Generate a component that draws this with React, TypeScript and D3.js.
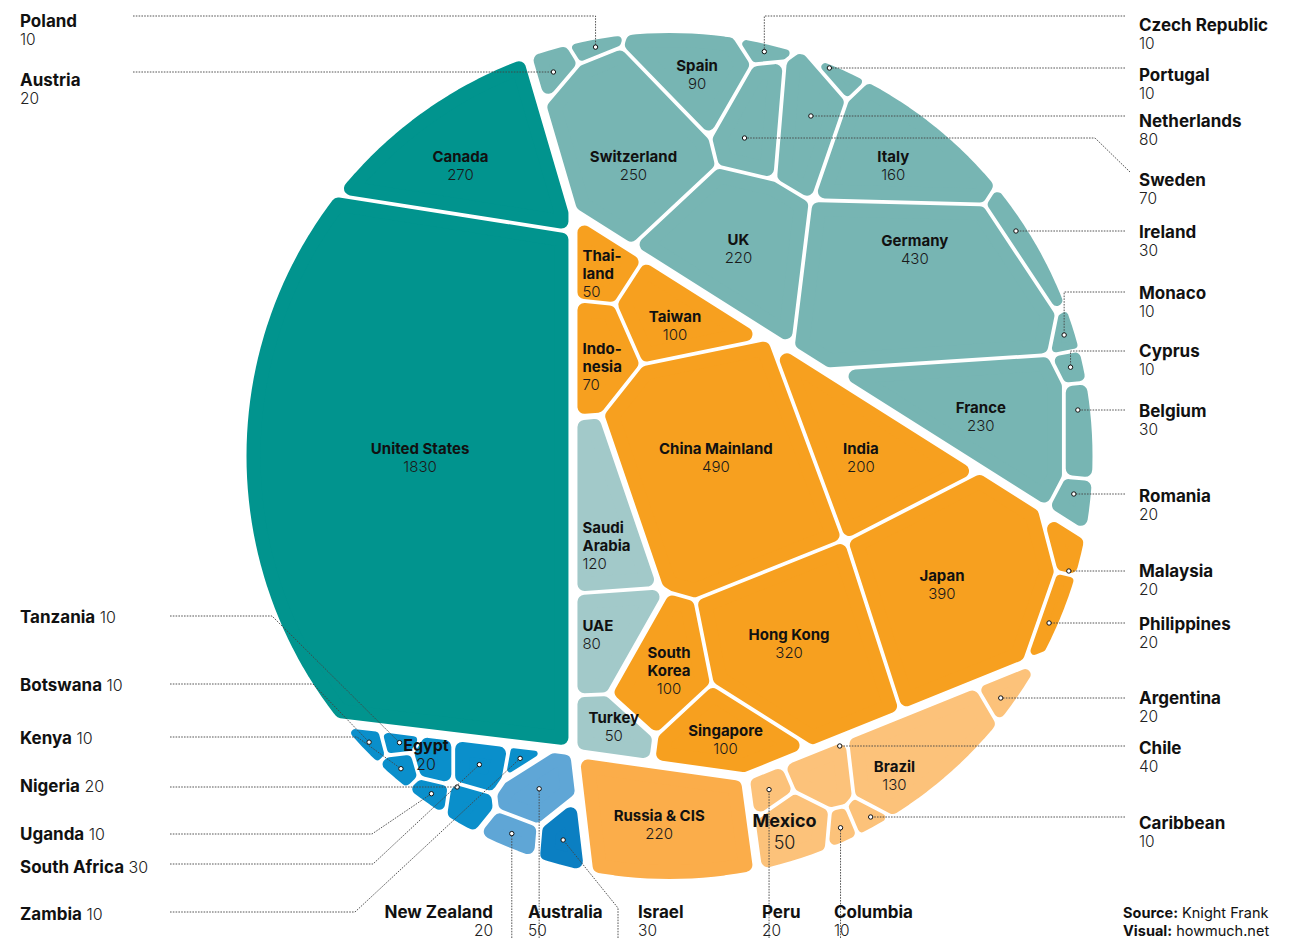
import React, { useMemo } from "react";
import * as d3 from "d3";

// ---------------- data ----------------
const regionNames = ["North America", "Europe", "Middle East", "Asia", "Latin America", "Russia & CIS", "Africa", "Oceania", "Israel"];

const countryNames = [
  "United States", "Canada",
  "Poland", "Austria", "Czech Republic", "Portugal", "Netherlands", "Sweden", "Spain", "Switzerland", "Italy", "UK", "Germany", "Ireland", "Monaco", "Cyprus", "France", "Belgium", "Romania",
  "Saudi Arabia", "UAE", "Turkey",
  "Thailand", "Indonesia", "Taiwan", "China Mainland", "India", "Japan", "Hong Kong", "South Korea", "Singapore", "Malaysia", "Philippines",
  "Argentina", "Chile", "Brazil", "Caribbean", "Mexico", "Columbia", "Peru",
  "Russia & CIS",
  "Tanzania", "Botswana", "Kenya", "Nigeria", "Uganda", "South Africa", "Zambia", "Egypt",
  "New Zealand", "Australia",
  "Israel",
];

const countryValues = [
  1830, 270,
  10, 20, 10, 10, 80, 70, 90, 250, 160, 220, 430, 30, 10, 10, 230, 30, 20,
  120, 80, 50,
  50, 70, 100, 490, 200, 390, 320, 100, 100, 20, 20,
  20, 40, 130, 10, 50, 10, 20,
  220,
  10, 10, 10, 20, 10, 30, 10, 20,
  20, 50,
  30,
];

const countryRegion = [
  0, 0,
  1, 1, 1, 1, 1, 1, 1, 1, 1, 1, 1, 1, 1, 1, 1, 1, 1,
  2, 2, 2,
  3, 3, 3, 3, 3, 3, 3, 3, 3, 3, 3,
  4, 4, 4, 4, 4, 4, 4,
  5,
  6, 6, 6, 6, 6, 6, 6, 6,
  7, 7,
  8,
];

// layout groups of the treemap's top level (regions -> group)
const regionGroup = [0, 1, 2, 2, 3, 4, 5, 5, 5];

// ---------------- layout & style ----------------
const W = 1314, H = 941;
const CX = 669.5, CY = 456, RADIUS = 423;
const GROUP_GAP = 4.5, REGION_GAP = 3, COUNTRY_GAP = 1.9;

const regionColors = ["#01948e", "#77b5b3", "#a2c9c9", "#f7a01f", "#fcc27a", "#fbad4a", "#0a8fcb", "#5fa6d6", "#0b7fc2"];

// top-level power-diagram sites (chosen so group borders follow the reference)
const groupSeeds: [number, number][] = [
  [420, 450], [911, 306], [820, 450], [933, 730], [778, 751], [378, 798],
];

// initial site estimates for the country level
const seedPos: Record<string, [number, number]> = {
  "United States": [430, 465], "Canada": [478, 160],
  "Poland": [590, 50], "Austria": [545, 78], "Czech Republic": [753, 48], "Portugal": [848, 87],
  "Netherlands": [808, 122], "Sweden": [760, 118], "Spain": [699, 83], "Switzerland": [630, 150],
  "Italy": [918, 160], "UK": [728, 255], "Germany": [915, 278], "Ireland": [1007, 217],
  "Monaco": [1058, 307], "Cyprus": [1068, 358], "France": [925, 430], "Belgium": [1075, 430], "Romania": [1068, 505],
  "Saudi Arabia": [603, 505], "UAE": [612, 635], "Turkey": [615, 720],
  "Thailand": [600, 260], "Indonesia": [590, 362], "Taiwan": [690, 318], "China Mainland": [720, 465],
  "India": [855, 415], "Japan": [945, 590], "Hong Kong": [790, 640], "South Korea": [665, 665],
  "Singapore": [730, 735], "Malaysia": [1060, 560], "Philippines": [1045, 625],
  "Argentina": [995, 702], "Chile": [815, 768], "Brazil": [900, 758], "Caribbean": [870, 815],
  "Mexico": [785, 828], "Columbia": [830, 832], "Peru": [760, 792],
  "Russia & CIS": [665, 812],
  "Tanzania": [388, 727], "Botswana": [365, 733], "Kenya": [392, 762], "Nigeria": [458, 795],
  "Uganda": [418, 789], "South Africa": [470, 752], "Zambia": [503, 758], "Egypt": [427, 752],
  "New Zealand": [505, 833], "Australia": [522, 788],
  "Israel": [562, 838],
};

type Inner = { name: string; lines: string[]; size?: number; align?: "left"; dx?: number; dy?: number };
const innerLabels: Inner[] = [
  { name: "United States", lines: ["United States"], dy: -12 },
  { name: "Canada", lines: ["Canada"], dx: -12, dy: 9 },
  { name: "Spain", lines: ["Spain"], dx: 4, dy: 5 },
  { name: "Switzerland", lines: ["Switzerland"], dx: 8, dy: 20 },
  { name: "Italy", lines: ["Italy"], dx: -4, dy: 9 },
  { name: "UK", lines: ["UK"], dy: 3 },
  { name: "Germany", lines: ["Germany"], dy: -38 },
  { name: "France", lines: ["France"], dx: -3, dy: 4 },
  { name: "Thailand", lines: ["Thai-", "land"], align: "left", dy: 8 },
  { name: "Indonesia", lines: ["Indo-", "nesia"], align: "left", dy: 10 },
  { name: "Taiwan", lines: ["Taiwan"], dy: 7 },
  { name: "China Mainland", lines: ["China Mainland"], dx: -3, dy: -11 },
  { name: "India", lines: ["India"], dx: -4, dy: 7 },
  { name: "Japan", lines: ["Japan"], dx: -13, dy: -2 },
  { name: "Hong Kong", lines: ["Hong Kong"], dx: -11, dy: -3 },
  { name: "South Korea", lines: ["South", "Korea"], dx: 3, dy: 5 },
  { name: "Singapore", lines: ["Singapore"], dx: 2, dy: 3 },
  { name: "Saudi Arabia", lines: ["Saudi", "Arabia"], align: "left", dy: 26 },
  { name: "UAE", lines: ["UAE"], align: "left" },
  { name: "Turkey", lines: ["Turkey"], dx: 4, dy: -3 },
  { name: "Brazil", lines: ["Brazil"], dx: -23, dy: 25 },
  { name: "Mexico", lines: ["Mexico"], size: 18, dx: -7 },
  { name: "Russia & CIS", lines: ["Russia & CIS"], dx: -5, dy: 2 },
  { name: "Egypt", lines: ["Egypt"], size: 16, dx: -9, dy: -4 },
];

type Ext = {
  name: string; kind: "side" | "inline" | "bottom"; tx: number; ty: number; anchor?: "start" | "end";
  route: "h" | "hv" | "hd" | "dh" | "v" | "vd"; lx: number; ly: number; kx?: number; ky?: number;
};
const extLabels: Ext[] = [
  { name: "Poland", kind: "side", tx: 20, ty: 27, route: "hv", lx: 133, ly: 16 },
  { name: "Austria", kind: "side", tx: 20, ty: 86, route: "h", lx: 133, ly: 72 },
  { name: "Czech Republic", kind: "side", tx: 1139, ty: 31, route: "hv", lx: 1125, ly: 16 },
  { name: "Portugal", kind: "side", tx: 1139, ty: 81, route: "h", lx: 1125, ly: 68 },
  { name: "Netherlands", kind: "side", tx: 1139, ty: 127, route: "h", lx: 1125, ly: 116 },
  { name: "Sweden", kind: "side", tx: 1139, ty: 186, route: "dh", lx: 1130, ly: 172, kx: 1095, ky: 138 },
  { name: "Ireland", kind: "side", tx: 1139, ty: 238, route: "h", lx: 1125, ly: 231 },
  { name: "Monaco", kind: "side", tx: 1139, ty: 299, route: "h", lx: 1125, ly: 292 },
  { name: "Cyprus", kind: "side", tx: 1139, ty: 357, route: "h", lx: 1125, ly: 351 },
  { name: "Belgium", kind: "side", tx: 1139, ty: 417, route: "h", lx: 1125, ly: 410 },
  { name: "Romania", kind: "side", tx: 1139, ty: 502, route: "h", lx: 1125, ly: 494 },
  { name: "Malaysia", kind: "side", tx: 1139, ty: 577, route: "h", lx: 1125, ly: 571 },
  { name: "Philippines", kind: "side", tx: 1139, ty: 630, route: "h", lx: 1125, ly: 623 },
  { name: "Argentina", kind: "side", tx: 1139, ty: 704, route: "h", lx: 1125, ly: 698 },
  { name: "Chile", kind: "side", tx: 1139, ty: 754, route: "h", lx: 1125, ly: 746 },
  { name: "Caribbean", kind: "side", tx: 1139, ty: 829, route: "h", lx: 1125, ly: 817 },
  { name: "Tanzania", kind: "inline", tx: 20, ty: 623, route: "hd", lx: 170, ly: 616, kx: 272 },
  { name: "Botswana", kind: "inline", tx: 20, ty: 691, route: "hd", lx: 170, ly: 684, kx: 313 },
  { name: "Kenya", kind: "inline", tx: 20, ty: 744, route: "hd", lx: 170, ly: 737, kx: 357 },
  { name: "Nigeria", kind: "inline", tx: 20, ty: 792, route: "h", lx: 170, ly: 787 },
  { name: "Uganda", kind: "inline", tx: 20, ty: 840, route: "hd", lx: 170, ly: 834, kx: 372 },
  { name: "South Africa", kind: "inline", tx: 20, ty: 873, route: "hd", lx: 170, ly: 864, kx: 373 },
  { name: "Zambia", kind: "inline", tx: 20, ty: 920, route: "hd", lx: 170, ly: 912, kx: 355 },
  { name: "New Zealand", kind: "bottom", tx: 493, ty: 918, anchor: "end", route: "v", lx: 0, ly: 938 },
  { name: "Australia", kind: "bottom", tx: 528, ty: 918, route: "v", lx: 0, ly: 938 },
  { name: "Israel", kind: "bottom", tx: 638, ty: 918, route: "vd", lx: 618, ly: 938, ky: 908 },
  { name: "Peru", kind: "bottom", tx: 762, ty: 918, route: "v", lx: 0, ly: 938 },
  { name: "Columbia", kind: "bottom", tx: 834, ty: 918, route: "v", lx: 0, ly: 938 },
];

const FONT = "Inter, 'Noto Sans', Lato, sans-serif";

// ---------------- geometry ----------------
type V = { x: number; y: number; e: number };

function clip(poly: V[], a: number, b: number, c: number, label: number): V[] {
  const out: V[] = [];
  const n = poly.length;
  for (let k = 0; k < n; k++) {
    const P = poly[(k + n - 1) % n];
    const Q = poly[k];
    const fp = a * P.x + b * P.y - c;
    const fq = a * Q.x + b * Q.y - c;
    if (fq <= 0) {
      if (fp > 0) {
        const t = fp / (fp - fq);
        out.push({ x: P.x + t * (Q.x - P.x), y: P.y + t * (Q.y - P.y), e: P.e });
      }
      out.push(Q);
    } else if (fp <= 0) {
      const t = fp / (fp - fq);
      out.push({ x: P.x + t * (Q.x - P.x), y: P.y + t * (Q.y - P.y), e: label });
    }
  }
  return out;
}

function signedArea(p: V[]): number {
  let s = 0;
  for (let i = 0; i < p.length; i++) {
    const a = p[i], b = p[(i + 1) % p.length];
    s += a.x * b.y - b.x * a.y;
  }
  return s / 2;
}

function powerCells(boundary: V[], sx: number[], sy: number[], w: number[]): V[][] {
  const n = sx.length;
  const cells: V[][] = [];
  for (let i = 0; i < n; i++) {
    let poly = boundary;
    for (let j = 0; j < n && poly.length; j++) {
      if (j === i) continue;
      const a = 2 * (sx[j] - sx[i]);
      const b = 2 * (sy[j] - sy[i]);
      const c = sx[j] * sx[j] + sy[j] * sy[j] - sx[i] * sx[i] - sy[i] * sy[i] - w[j] + w[i];
      poly = clip(poly, a, b, c, j);
    }
    cells.push(poly);
  }
  return cells;
}

function solve(boundary: V[], sx: number[], sy: number[], values: number[], iters: number): V[][] {
  const n = sx.length;
  if (n === 1) return [boundary];
  const total = Math.abs(signedArea(boundary));
  const vs = d3.sum(values);
  const T = values.map((v) => (v / vs) * total);
  const w = new Array(n).fill(0);
  let cells = powerCells(boundary, sx, sy, w);
  for (let it = 0; it < iters; it++) {
    const nw = w.slice();
    for (let i = 0; i < n; i++) {
      const c = cells[i];
      const A = c.length >= 3 ? Math.abs(signedArea(c)) : 0;
      if (A < 1e-6) {
        let need = -Infinity, md = Infinity;
        for (let j = 0; j < n; j++) {
          if (j === i) continue;
          const d2 = (sx[j] - sx[i]) ** 2 + (sy[j] - sy[i]) ** 2;
          need = Math.max(need, w[j] - d2);
          md = Math.min(md, d2);
        }
        nw[i] = Math.max(w[i], need) + 0.3 * md;
        continue;
      }
      let der = 0;
      for (let k = 0; k < c.length; k++) {
        const e = c[k].e;
        if (e < 0 || e >= n) continue;
        const Q = c[(k + 1) % c.length];
        const L = Math.hypot(Q.x - c[k].x, Q.y - c[k].y);
        const d = Math.hypot(sx[e] - sx[i], sy[e] - sy[i]);
        if (d > 1e-9) der += L / (2 * d);
      }
      if (der > 0) nw[i] = w[i] + 0.5 * (T[i] - A) / der;
    }
    for (let i = 0; i < n; i++) w[i] = nw[i];
    cells = powerCells(boundary, sx, sy, w);
  }
  return cells;
}

function insetPoly(poly: V[], gap: (e: number) => number, extra: number): V[] {
  const s = signedArea(poly);
  let out = poly;
  const n = poly.length;
  for (let k = 0; k < n && out.length; k++) {
    const P = poly[k], Q = poly[(k + 1) % n];
    const dx = Q.x - P.x, dy = Q.y - P.y;
    const L = Math.hypot(dx, dy);
    if (L < 1e-9) continue;
    const d = gap(P.e) + extra;
    if (d <= 0) continue;
    let nx = -dy / L, ny = dx / L;
    if (s < 0) { nx = -nx; ny = -ny; }
    out = clip(out, -nx, -ny, -(nx * P.x + ny * P.y) - d, P.e);
  }
  return out;
}

function chordMid(p: V[], y: number): number | null {
  const xs: number[] = [];
  for (let i = 0; i < p.length; i++) {
    const a = p[i], b = p[(i + 1) % p.length];
    if ((a.y - y) * (b.y - y) <= 0 && a.y !== b.y) xs.push(a.x + ((y - a.y) / (b.y - a.y)) * (b.x - a.x));
  }
  if (xs.length < 2) return null;
  return (d3.min(xs)! + d3.max(xs)!) / 2;
}

type Cell = { idx: number; base: V[]; pts: V[]; r: number; cx: number; cy: number; color: string };

function computeLayout(): Cell[] {
  const N = 240;
  const circle: V[] = d3.range(N).map((k) => {
    const t = (2 * Math.PI * k) / N;
    return { x: CX + RADIUS * Math.cos(t), y: CY + RADIUS * Math.sin(t), e: -1 };
  });
  const nG = groupSeeds.length;
  const members = d3.range(nG).map((g) => countryNames.map((_, i) => i).filter((i) => regionGroup[countryRegion[i]] === g));
  const gv = members.map((m) => d3.sum(m, (i) => countryValues[i]));
  const top = solve(circle, groupSeeds.map((s) => s[0]), groupSeeds.map((s) => s[1]), gv, 600);
  const result: Cell[] = new Array(countryNames.length);
  members.forEach((m, g) => {
    const boundary = top[g].map((v) => ({ x: v.x, y: v.y, e: v.e < 0 ? -1 : 1000 + v.e }));
    const sub = solve(
      boundary,
      m.map((i) => seedPos[countryNames[i]][0]),
      m.map((i) => seedPos[countryNames[i]][1]),
      m.map((i) => countryValues[i]),
      600
    );
    m.forEach((i, k) => {
      const poly = sub[k];
      const gap = (e: number) => {
        if (e < 0) return 0;
        if (e >= 1000) return GROUP_GAP;
        return countryRegion[m[e]] === countryRegion[i] ? COUNTRY_GAP : REGION_GAP;
      };
      const base = insetPoly(poly, gap, 0);
      const a0 = Math.abs(signedArea(base));
      let pts = base, r = 0;
      for (const rr of [7, 5.5, 4, 3, 2, 1]) {
        const p = insetPoly(poly, gap, rr);
        if (p.length >= 3 && Math.abs(signedArea(p)) > 0.3 * a0) { pts = p; r = rr; break; }
      }
      const c = base.length >= 3 ? d3.polygonCentroid(base.map((v) => [v.x, v.y] as [number, number])) : seedPos[countryNames[i]];
      result[i] = { idx: i, base, pts, r, cx: c[0], cy: c[1], color: regionColors[countryRegion[i]] };
    });
  });
  return result;
}

export default function App() {
  const cells = useMemo(() => computeLayout(), []);
  const byName = (n: string) => cells[countryNames.indexOf(n)];
  const valueOf = (n: string) => countryValues[countryNames.indexOf(n)];

  return (
    <svg width={W} height={H} viewBox={`0 0 ${W} ${H}`} style={{ position: "absolute", left: 0, top: 0, background: "#fff" }} fontFamily={FONT}>
      <g>
        {cells.map((c) =>
          c.pts.length >= 3 ? (
            <path
              key={c.idx}
              d={"M" + c.pts.map((v) => `${v.x.toFixed(2)},${v.y.toFixed(2)}`).join("L") + "Z"}
              fill={c.color}
              stroke={c.color}
              strokeWidth={2 * c.r}
              strokeLinejoin="round"
            />
          ) : null
        )}
      </g>
      <g>
        {innerLabels.map((lab) => {
          const c = byName(lab.name);
          const size = lab.size ?? 15;
          const lh = size * 1.2;
          const nLines = lab.lines.length + 1;
          const y0 = c.cy + (lab.dy ?? 0) - ((nLines - 1) * lh) / 2 + size * 0.35;
          let x = c.cx + (lab.dx ?? 0), anchor: "middle" | "start" = "middle";
          if (lab.align === "left" && c.base.length >= 3) {
            x = (d3.min(c.base, (v) => v.x) as number) + 5;
            anchor = "start";
          }
          return (
            <text key={lab.name} x={x} textAnchor={anchor} fontSize={size} fill="#111">
              {lab.lines.map((ln, k) => (
                <tspan key={k} x={x} y={y0 + k * lh} fontWeight={700}>{ln}</tspan>
              ))}
              <tspan x={x} y={y0 + lab.lines.length * lh} fontWeight={300} fill="#1a1a1a">{valueOf(lab.name)}</tspan>
            </text>
          );
        })}
      </g>
      <g>
        {extLabels.map((lab) => {
          const c = byName(lab.name);
          let dx = c.cx, dy = c.cy, d = "";
          if (lab.route === "h") {
            const m = chordMid(c.base, lab.ly);
            if (m !== null) { dx = m; dy = lab.ly; }
            d = `M${lab.lx},${lab.ly}H${dx}L${dx},${dy}`;
          } else if (lab.route === "hv") {
            d = `M${lab.lx},${lab.ly}H${dx}V${dy}`;
          } else if (lab.route === "hd") {
            d = `M${lab.lx},${lab.ly}H${lab.kx}L${dx},${dy}`;
          } else if (lab.route === "dh") {
            const m = chordMid(c.base, lab.ky!);
            if (m !== null) { dx = m; dy = lab.ky!; }
            d = `M${lab.lx},${lab.ly}L${lab.kx},${lab.ky}H${dx}L${dx},${dy}`;
          } else if (lab.route === "v") {
            d = `M${dx},${lab.ly}V${dy}`;
          } else if (lab.route === "vd") {
            d = `M${lab.lx},${lab.ly}V${lab.ky}L${dx},${dy}`;
          }
          return (
            <g key={lab.name}>
              <path d={d} fill="none" stroke="#444" strokeWidth={0.9} strokeDasharray="1.6 1.2" />
              <circle cx={dx} cy={dy} r={2.2} fill="#fff" stroke="#111" strokeWidth={1} />
            </g>
          );
        })}
      </g>
      <g>
        {extLabels.map((lab) => {
          const v = valueOf(lab.name);
          if (lab.kind === "inline") {
            return (
              <text key={lab.name} x={lab.tx} y={lab.ty} fontSize={17} fill="#111">
                <tspan fontWeight={700}>{lab.name}</tspan>
                <tspan fontWeight={300} fontSize={16} fill="#222">{" " + v}</tspan>
              </text>
            );
          }
          return (
            <text key={lab.name} x={lab.tx} textAnchor={lab.anchor ?? "start"} fill="#111">
              <tspan x={lab.tx} y={lab.ty} fontSize={17} fontWeight={700}>{lab.name}</tspan>
              <tspan x={lab.tx} y={lab.ty + 18} fontSize={15.5} fontWeight={300} fill="#222">{v}</tspan>
            </text>
          );
        })}
      </g>
      <g fontSize={14.5} fill="#111">
        <text x={1123} y={918}>
          <tspan fontWeight={700}>Source:</tspan>
          <tspan fontWeight={400}> Knight Frank</tspan>
        </text>
        <text x={1123} y={936}>
          <tspan fontWeight={700}>Visual:</tspan>
          <tspan fontWeight={400}> howmuch.net</tspan>
        </text>
      </g>
    </svg>
  );
}
